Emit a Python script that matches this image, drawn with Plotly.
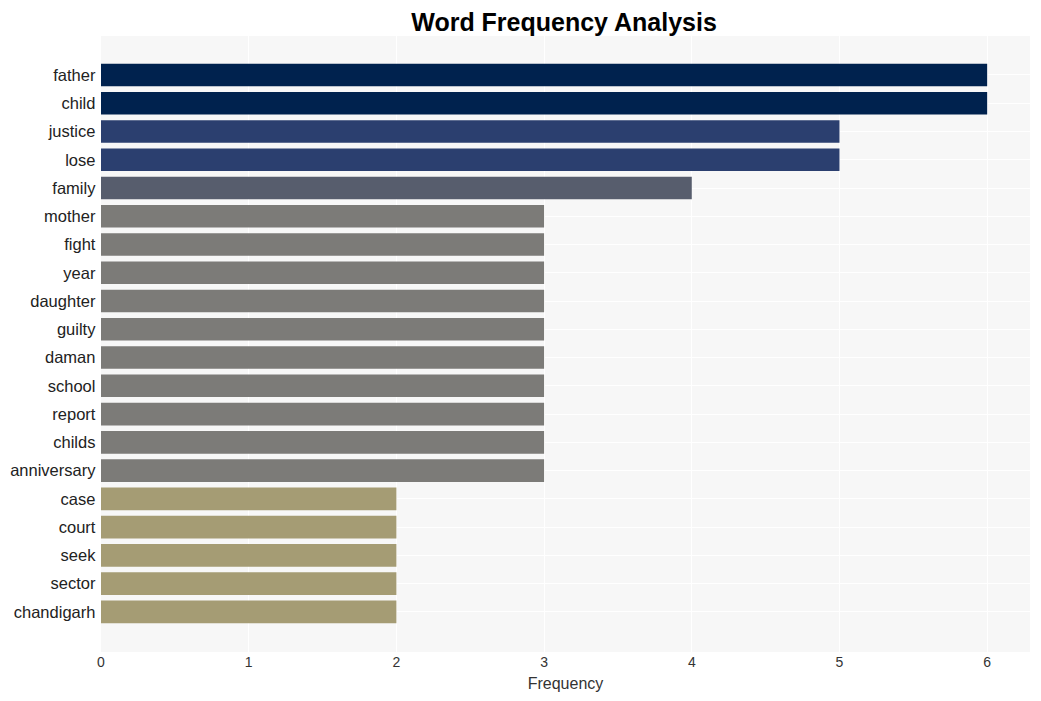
import plotly.graph_objects as go

words = ["father", "child", "justice", "lose", "family", "mother", "fight", "year",
         "daughter", "guilty", "daman", "school", "report", "childs", "anniversary",
         "case", "court", "seek", "sector", "chandigarh"]
freqs = [6, 6, 5, 5, 4, 3, 3, 3, 3, 3, 3, 3, 3, 3, 3, 2, 2, 2, 2, 2]
color_by_value = {6: "#00224e", 5: "#2b3f6f", 4: "#575d6d", 3: "#7c7b78", 2: "#a59c74"}
colors = [color_by_value[v] for v in freqs]

fig = go.Figure(go.Bar(
    x=freqs, y=words, orientation="h",
    marker=dict(color=colors, line=dict(width=0)),
))

fig.update_layout(
    width=1025, height=685,
    margin=dict(l=93, r=3, t=28, b=41),
    paper_bgcolor="white",
    plot_bgcolor="#f7f7f7",
    bargap=0.2,
    font=dict(family="Liberation Sans, Arial, sans-serif", color="#333"),
    title=dict(text="<b>Word Frequency Analysis</b>", x=0.5425, xanchor="center",
               y=0.979, yanchor="middle", font=dict(size=25, color="black")),
    xaxis=dict(range=[0, 6.29], dtick=1, gridcolor="white", gridwidth=1,
               zeroline=False, showline=False, ticks="",
               tickfont=dict(size=14, color="#333"),
               title=dict(text="Frequency", font=dict(size=16, color="#333"), standoff=8)),
    yaxis=dict(range=[20.42, -1.38], autorange=False, gridcolor="white", gridwidth=1,
               showline=False, ticks="", ticksuffix=" ",
               tickfont=dict(size=16.5, color="#222")),
    showlegend=False,
)

fig.write_html("out.html")
